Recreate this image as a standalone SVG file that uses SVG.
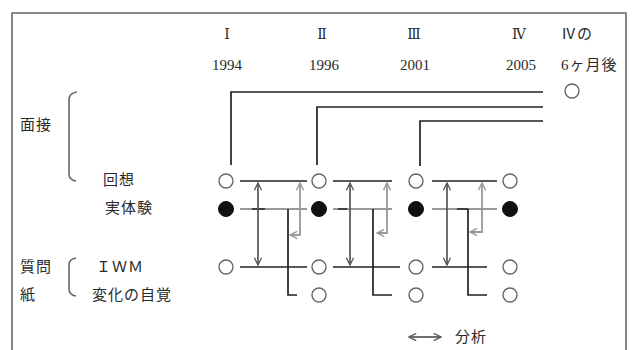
<svg xmlns="http://www.w3.org/2000/svg" width="635" height="350" viewBox="0 0 635 350">
<style>
text{font-family:"Liberation Serif","Noto Sans CJK JP",serif;fill:#2a2a2a;}
.hd{font-size:15px;text-anchor:middle;}
.rn{font-family:"DejaVu Serif","Liberation Serif","Noto Sans CJK JP",serif;font-size:14px;text-anchor:middle;}
.lb{font-size:15px;letter-spacing:1px;}
.o{fill:#fff;stroke:#666;stroke-width:1.4;}
.f{fill:#111;stroke:#111;stroke-width:1;}
.bk{fill:none;stroke:#222;stroke-width:1.7;}
.gy{fill:none;stroke:#999;stroke-width:2;}
.da{fill:none;stroke:#555;stroke-width:1.7;marker-start:url(#ad);marker-end:url(#ad);}
.ba{fill:none;stroke:#999;stroke-width:1.8;marker-start:url(#ag);marker-end:url(#ag);}
.fr{fill:none;stroke:#666;stroke-width:1.6;}
</style>
<defs>
<marker id="ad" viewBox="0 0 10 10" refX="9" refY="5" markerWidth="9" markerHeight="9" orient="auto-start-reverse" markerUnits="userSpaceOnUse"><path d="M1,1 L9,5 L1,9" fill="none" stroke="#555" stroke-width="1.4"/></marker>
<marker id="ag" viewBox="0 0 10 10" refX="9" refY="5" markerWidth="9" markerHeight="9" orient="auto-start-reverse" markerUnits="userSpaceOnUse"><path d="M1,1 L9,5 L1,9" fill="none" stroke="#999" stroke-width="1.6"/></marker>
</defs>
<rect width="635" height="350" fill="#fff"/>
<path class="fr" d="M12,352 V13 H626 V352"/>
<g id="header">
<text class="rn" x="227" y="39">Ⅰ</text>
<text class="rn" x="322" y="39">Ⅱ</text>
<text class="rn" x="414" y="39">Ⅲ</text>
<text class="rn" x="519" y="39">Ⅳ</text>
<text class="lb" x="561" y="39">Ⅳの</text>
<text class="hd" x="227" y="70">1994</text>
<text class="hd" x="324" y="70">1996</text>
<text class="hd" x="415" y="70">2001</text>
<text class="hd" x="521" y="70">2005</text>
<text class="lb" x="561" y="70">6ヶ月後</text>
</g>
<g id="labels">
<text class="lb" x="20" y="130">面接</text>
<path class="fr" d="M77,92 Q69,93 69,100 V174 Q69,180 76,181"/>
<text class="lb" x="103" y="185">回想</text>
<text class="lb" x="105" y="213">実体験</text>
<text class="lb" x="20" y="272">質問</text>
<text class="lb" x="20" y="300">紙</text>
<path class="fr" d="M76,258 Q69,259 69,265 V289 Q69,295 76,296"/>
<text class="lb" x="96" y="272">ＩＷＭ</text>
<text class="lb" x="92" y="300">変化の自覚</text>
<text class="lb" x="455" y="342">分析</text>
</g>
<g id="connectors">
<path class="bk" d="M231,165 V92 H543"/>
<path class="bk" d="M317,165 V107 H543"/>
<path class="bk" d="M420,166 V121 H543"/>
<path class="bk" d="M240,181 H307 M333,181 H392 M432,181 H497"/>
<path class="gy" d="M240,209 H307 M333,209 H392 M432,209 H497"/>
<path class="bk" d="M252,209 H265 M338,209 H347 M457,209 H468"/>
<path class="bk" d="M240,267 H307 M333,267 H400 M432,267 H487"/>
<path class="bk" d="M288,209 V295 H297 M373,209 V295 H392 M468,209 V295 H487"/>
<path class="da" d="M258,183 V265"/>
<path class="da" d="M350,183 V265"/>
<path class="da" d="M447,183 V265"/>
<path class="ba" d="M300,183 V235 H290"/>
<path class="ba" d="M387,183 V233 H377"/>
<path class="ba" d="M482,183 V232 H470"/>
<path class="da" d="M409,337 H441"/>
</g>
<g id="n-top"><circle class="o" cx="572" cy="91" r="7"/></g>
<g id="n-c1"><circle class="o" cx="226" cy="181" r="7"/><circle class="f" cx="226" cy="209" r="7.5"/><circle class="o" cx="226" cy="267" r="7"/></g>
<g id="n-c2"><circle class="o" cx="319" cy="181" r="7"/><circle class="f" cx="319" cy="209" r="7.5"/><circle class="o" cx="319" cy="267" r="7"/><circle class="o" cx="319" cy="295" r="7"/></g>
<g id="n-c3"><circle class="o" cx="416" cy="181" r="7"/><circle class="f" cx="416" cy="209" r="7.5"/><circle class="o" cx="416" cy="267" r="7"/><circle class="o" cx="416" cy="295" r="7"/></g>
<g id="n-c4"><circle class="o" cx="510" cy="181" r="7"/><circle class="f" cx="510" cy="209" r="7.5"/><circle class="o" cx="510" cy="267" r="7"/><circle class="o" cx="510" cy="295" r="7"/></g>
</svg>
